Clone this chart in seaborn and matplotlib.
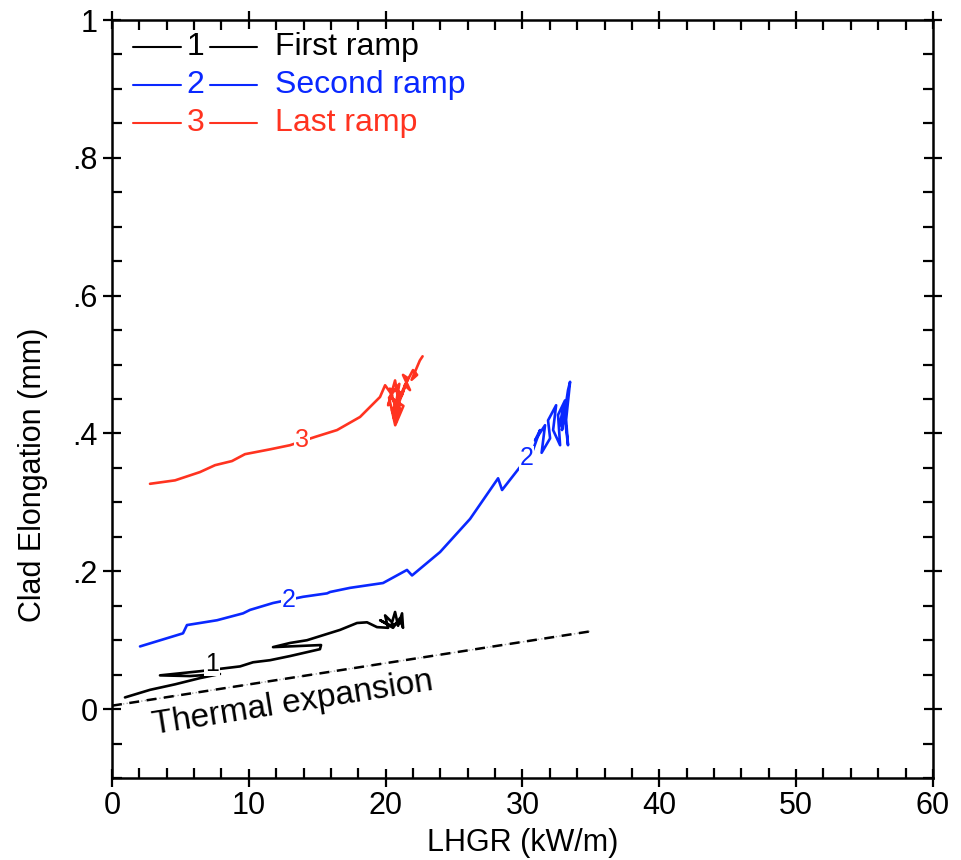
import matplotlib
matplotlib.use("Agg")
import matplotlib.pyplot as plt
import pandas as pd
import seaborn as sns
from matplotlib.ticker import MultipleLocator

# ramp 1 (first ramp)
ramp1_x = [0.95, 2.78, 4.61, 6.43, 7.89, 5.70, 3.51, 6.43, 9.36, 10.31, 11.55, 13.01,
           15.20, 15.28, 11.77, 13.01, 14.25, 16.67, 17.91, 18.64, 19.37, 20.18, 19.96,
           20.47, 20.69, 20.91, 21.20, 21.27, 21.05, 20.54, 19.60, 20.30, 21.10]
ramp1_y = [0.017, 0.028, 0.036, 0.045, 0.051, 0.048, 0.049, 0.055, 0.062, 0.068, 0.071, 0.077,
           0.087, 0.093, 0.090, 0.096, 0.100, 0.115, 0.125, 0.126, 0.119, 0.118, 0.136,
           0.126, 0.141, 0.121, 0.139, 0.118, 0.132, 0.118, 0.129, 0.122, 0.125]

# ramp 2 (second ramp)
ramp2_x = [2.05, 5.19, 5.48, 6.43, 7.68, 9.58, 10.09, 11.77, 13.96, 15.72, 15.94, 17.40,
           19.81, 21.56, 21.93, 23.98, 26.17, 28.22, 28.51, 30.04, 30.77, 31.29, 30.92,
           31.65, 31.40, 32.02, 31.87, 32.46, 32.24, 32.75, 32.60, 33.11, 32.89, 33.33,
           33.48, 33.19, 33.33, 33.00, 32.70]
ramp2_y = [0.091, 0.110, 0.122, 0.125, 0.129, 0.139, 0.144, 0.154, 0.163, 0.168, 0.170, 0.176,
           0.183, 0.202, 0.194, 0.228, 0.276, 0.335, 0.318, 0.357, 0.376, 0.405, 0.390,
           0.412, 0.372, 0.393, 0.419, 0.441, 0.405, 0.383, 0.427, 0.448, 0.405, 0.463,
           0.475, 0.420, 0.383, 0.440, 0.410]

# ramp 3 (last ramp)
ramp3_x = [2.78, 4.61, 6.43, 7.53, 8.77, 9.72, 11.55, 13.01, 14.84, 16.45, 18.13, 19.59,
           19.96, 20.47, 20.18, 20.69, 21.05, 20.61, 20.91, 21.42, 21.20, 20.47, 20.76,
           21.05, 20.30, 20.90, 20.55, 21.30, 20.70, 20.25, 21.00, 20.60, 21.64, 21.27,
           21.78, 21.40, 22.00, 22.30, 21.90, 22.50, 22.70]
ramp3_y = [0.327, 0.332, 0.344, 0.354, 0.360, 0.370, 0.377, 0.383, 0.395, 0.405, 0.424, 0.453,
           0.470, 0.456, 0.441, 0.477, 0.434, 0.422, 0.448, 0.470, 0.456, 0.434, 0.417,
           0.460, 0.465, 0.428, 0.450, 0.440, 0.412, 0.452, 0.472, 0.425, 0.480, 0.485,
           0.463, 0.470, 0.492, 0.485, 0.478, 0.506, 0.512]

thermal_x = [0, 35]
thermal_y = [0.005, 0.113]

ramp_names = ["First ramp", "Second ramp", "Last ramp"]
ramp_ids = ["1", "2", "3"]
ramp_colors = ["black", "#0a28ff", "#ff3320"]

# numbers written on the curves
tag_text = ["1", "2", "2", "3"]
tag_x = [7.3, 12.9, 30.3, 13.9]
tag_y = [0.066, 0.158, 0.364, 0.390]
tag_color = ["black", "#0a28ff", "#0a28ff", "#ff3320"]

yticks = [0, 0.2, 0.4, 0.6, 0.8, 1.0]
ytick_labels = ["0", ".2", ".4", ".6", ".8", "1"]
xticks = [0, 10, 20, 30, 40, 50, 60]

sns.set_theme(style="ticks")
plt.rcParams["font.family"] = ["Liberation Sans", "DejaVu Sans"]
plt.rcParams["text.color"] = "black"
plt.rcParams["axes.labelcolor"] = "black"
plt.rcParams["xtick.color"] = "black"
plt.rcParams["ytick.color"] = "black"

fig = plt.figure(figsize=(9.62, 8.6), dpi=100)
ax = fig.add_axes([0.1164, 0.0953, 0.8534, 0.8814])

ramps = [(ramp1_x, ramp1_y), (ramp2_x, ramp2_y), (ramp3_x, ramp3_y)]
for (xs, ys), col in zip(ramps, ramp_colors):
    df = pd.DataFrame({"x": xs, "y": ys})
    sns.lineplot(data=df, x="x", y="y", sort=False, estimator=None,
                 color=col, lw=1.9, ax=ax)

sns.lineplot(x=thermal_x, y=thermal_y, color="#aaaaaa", lw=1.0, ls=":", ax=ax)
sns.lineplot(x=thermal_x, y=thermal_y, color="black", lw=1.8, ls=(0, (4, 3)), ax=ax)

for t, x, y, c in zip(tag_text, tag_x, tag_y, tag_color):
    ax.text(x, y, t, color=c, fontsize=18, ha="center", va="center",
            bbox=dict(facecolor="white", edgecolor="none", pad=0.5))

ax.text(13.3, -0.004, "Thermal expansion", fontsize=24, rotation=9,
        rotation_mode="anchor", ha="center", va="baseline", color="black")

# legend: line - number - line, then the name
for i, (name, num, col) in enumerate(zip(ramp_names, ramp_ids, ramp_colors)):
    yy = 0.964 - 0.05 * i
    ax.plot([0.026, 0.084], [yy, yy], color=col, lw=1.5, transform=ax.transAxes)
    ax.plot([0.119, 0.177], [yy, yy], color=col, lw=1.5, transform=ax.transAxes)
    ax.text(0.102, yy, num, color=col, fontsize=23, ha="center", va="center",
            transform=ax.transAxes)
    ax.text(0.199, yy, name, color=col, fontsize=23, ha="left", va="center",
            transform=ax.transAxes)

ax.set_xlim(0, 60)
ax.set_ylim(-0.1, 1.0)
ax.set_xticks(xticks)
ax.set_yticks(yticks)
ax.set_yticklabels(ytick_labels)
ax.xaxis.set_minor_locator(MultipleLocator(2))
ax.yaxis.set_minor_locator(MultipleLocator(0.05))
ax.tick_params(which="major", direction="inout", length=13, width=1.6,
               top=True, right=True, labelsize=22, color="black",
               labelcolor="black")
ax.tick_params(axis="x", which="major", pad=3)
ax.tick_params(axis="y", which="major", pad=4)
ax.tick_params(which="minor", direction="in", length=7, width=1.6,
               top=True, right=True, color="black")
for s in ax.spines.values():
    s.set_linewidth(1.8)
    s.set_color("black")

ax.set_xlabel("LHGR (kW/m)", fontsize=22)
ax.set_ylabel("Clad Elongation (mm)", fontsize=22)
ax.xaxis.set_label_coords(0.5, -0.066)
ax.yaxis.set_label_coords(-0.078, 0.40)

fig.savefig("out.png", dpi=100)
